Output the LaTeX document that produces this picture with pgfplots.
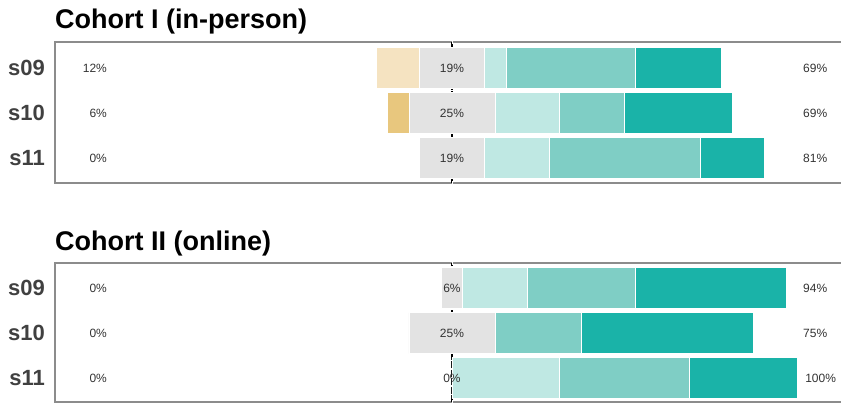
\documentclass[border=0pt]{standalone}
\usepackage{fontspec}
\setmainfont{Liberation Sans}
\usepackage{pgfplots}
\usepackage{pgfplotstable}
\pgfplotsset{compat=1.18}

\definecolor{csd}{HTML}{E8C77E}
\definecolor{cd}{HTML}{F5E3C1}
\definecolor{cn}{HTML}{E3E3E3}
\definecolor{ca}{HTML}{BFE8E3}
\definecolor{cm}{HTML}{7FCEC5}
\definecolor{cs}{HTML}{1AB3A8}
\definecolor{frame}{HTML}{8C8C8C}
\definecolor{lbl}{HTML}{333333}
\definecolor{ylbl}{HTML}{404040}

% y: 3 = s09, 2 = s10, 1 = s11 ; values in percent
\pgfplotstableread{
y off sd d n a m s
3 -21.875 0 12.5 18.75 6.25 37.5 25
2 -18.75 6.25 0 25 18.75 18.75 31.25
1 -9.375 0 0 18.75 18.75 43.75 18.75
}\cohortA
\pgfplotstableread{
y off sd d n a m s
3 -3.125 0 0 6.25 18.75 31.25 43.75
2 -12.5 0 0 25 0 25 50
1 0 0 0 0 31.25 37.5 31.25
}\cohortB

\tikzset{pl/.style={font=\fontsize{12}{14}\selectfont, text=lbl, inner sep=0pt}}

\pgfplotsset{
  likert/.style={
    scale only axis,
    width=797pt,
    xmin=-115.1, xmax=116,
    xbar stacked,
    stack negative=on previous,
    bar width=41pt,
    axis line style={draw=frame, line width=1.6pt},
    xtick={-100,-75,...,100},
    xticklabels={},
    xtick style={draw=white, line width=0.8pt},
    major tick length=4pt,
    tick align=center,
    extra x ticks={0},
    extra x tick labels={},
    extra x tick style={grid=major, major grid style={black, line width=1.1pt, dash pattern=on 7pt off 1.5pt}, tick style={draw=none}},
    ytick={1,2,3},
    yticklabels={s11,s10,s09},
    ytick style={draw=none},
    yticklabel style={font=\bfseries\fontsize{22}{24}\selectfont, text=ylbl, inner sep=0pt, xshift=-8pt},
    every axis plot/.append style={draw=white, line width=0.5pt},
    clip=false,
  },
}

\begin{document}
\begin{tikzpicture}[x=1pt,y=1pt]
\clip (0,0) rectangle (841,-404);

\node[anchor=base west, font=\bfseries\fontsize{27}{30}\selectfont, inner sep=0pt] at (55,-29) {Cohort I (in-person)};
\node[anchor=base west, font=\bfseries\fontsize{27}{30}\selectfont, inner sep=0pt] at (55,-250) {Cohort II (online)};

\begin{axis}[likert, at={(55pt,-42pt)}, anchor=north west, height=141pt, ymin=0.444, ymax=3.578]
\addplot[draw=none, fill=none] table[x=off, y=y]{\cohortA};
\addplot[fill=csd] table[x=sd, y=y]{\cohortA};
\addplot[fill=cd] table[x=d, y=y]{\cohortA};
\addplot[fill=cn] table[x=n, y=y]{\cohortA};
\addplot[fill=ca] table[x=a, y=y]{\cohortA};
\addplot[fill=cm] table[x=m, y=y]{\cohortA};
\addplot[fill=cs] table[x=s, y=y]{\cohortA};
\coordinate (A-L3) at (axis cs:-100,3);
\coordinate (A-L2) at (axis cs:-100,2);
\coordinate (A-L1) at (axis cs:-100,1);
\coordinate (A-C3) at (axis cs:0,3);
\coordinate (A-C2) at (axis cs:0,2);
\coordinate (A-C1) at (axis cs:0,1);
\coordinate (A-R3) at (axis cs:101.8,3);
\coordinate (A-R2) at (axis cs:101.8,2);
\coordinate (A-R1) at (axis cs:101.8,1);
\end{axis}
\node[pl, anchor=east] at (A-L3) {12\%};
\node[pl, anchor=east] at (A-L2) {6\%};
\node[pl, anchor=east] at (A-L1) {0\%};
\node[pl] at (A-C3) {19\%};
\node[pl] at (A-C2) {25\%};
\node[pl] at (A-C1) {19\%};
\node[pl, anchor=west] at (A-R3) {69\%};
\node[pl, anchor=west] at (A-R2) {69\%};
\node[pl, anchor=west] at (A-R1) {81\%};

\begin{axis}[likert, at={(55pt,-263pt)}, anchor=north west, height=139pt, ymin=0.467, ymax=3.556]
\addplot[draw=none, fill=none] table[x=off, y=y]{\cohortB};
\addplot[fill=csd] table[x=sd, y=y]{\cohortB};
\addplot[fill=cd] table[x=d, y=y]{\cohortB};
\addplot[fill=cn] table[x=n, y=y]{\cohortB};
\addplot[fill=ca] table[x=a, y=y]{\cohortB};
\addplot[fill=cm] table[x=m, y=y]{\cohortB};
\addplot[fill=cs] table[x=s, y=y]{\cohortB};
\coordinate (B-L3) at (axis cs:-100,3);
\coordinate (B-L2) at (axis cs:-100,2);
\coordinate (B-L1) at (axis cs:-100,1);
\coordinate (B-C3) at (axis cs:0,3);
\coordinate (B-C2) at (axis cs:0,2);
\coordinate (B-C1) at (axis cs:0,1);
\coordinate (B-R3) at (axis cs:101.8,3);
\coordinate (B-R2) at (axis cs:101.8,2);
\coordinate (B-R1) at (axis cs:102.4,1);
\end{axis}
\node[pl, anchor=east] at (B-L3) {0\%};
\node[pl, anchor=east] at (B-L2) {0\%};
\node[pl, anchor=east] at (B-L1) {0\%};
\node[pl] at (B-C3) {6\%};
\node[pl] at (B-C2) {25\%};
\node[pl] at (B-C1) {0\%};
\node[pl, anchor=west] at (B-R3) {94\%};
\node[pl, anchor=west] at (B-R2) {75\%};
\node[pl, anchor=west] at (B-R1) {100\%};
\end{tikzpicture}
\end{document}
